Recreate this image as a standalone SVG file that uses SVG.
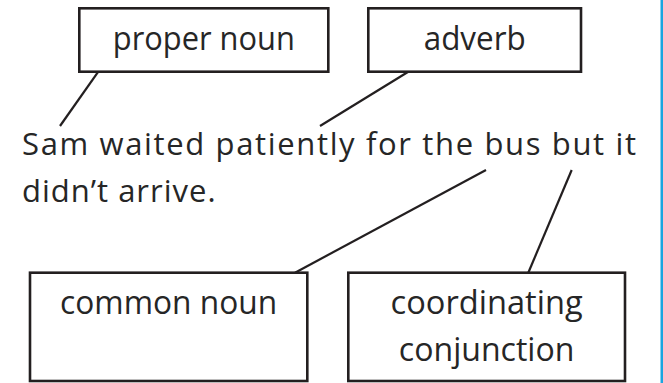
<svg xmlns="http://www.w3.org/2000/svg" width="663" height="383" viewBox="0 0 663 383">
  <style>
    .box { fill: #ffffff; stroke: #231f20; stroke-width: 2.6; }
    .lbl { font-family: "Open Sans", "Liberation Sans", sans-serif; font-size: 33px; font-weight: 400; fill: #262626; text-anchor: middle; }
    .sent { font-family: "Open Sans", "Liberation Sans", sans-serif; font-size: 31px; font-weight: 400; fill: #262626; }
    .link { stroke: #231f20; stroke-width: 2.2; fill: none; stroke-linecap: butt; }
  </style>
  <rect x="0" y="0" width="663" height="383" fill="#ffffff"/>
  <rect x="660.5" y="0" width="2.5" height="383" fill="#1ba5e0"/>

  <g id="connectors">
    <line class="link" x1="98.3" y1="71.7" x2="60" y2="126"/>
    <line class="link" x1="408.3" y1="71.7" x2="320" y2="126"/>
    <line class="link" x1="486" y1="170" x2="295" y2="272.7"/>
    <line class="link" x1="571.7" y1="170" x2="528.3" y2="272.7"/>
  </g>

  <g id="node-proper-noun">
    <rect class="box" x="79.3" y="8.3" width="249" height="63.4"/>
    <text class="lbl" x="203.8" y="50" textLength="182" lengthAdjust="spacingAndGlyphs">proper noun</text>
  </g>

  <g id="node-adverb">
    <rect class="box" x="368.3" y="8.3" width="212.7" height="63.4"/>
    <text class="lbl" x="474.7" y="50" textLength="102" lengthAdjust="spacingAndGlyphs">adverb</text>
  </g>

  <g id="sentence">
    <text class="sent" x="22" y="155" textLength="614" lengthAdjust="spacing">Sam waited patiently for the bus but it</text>
    <text class="sent" x="22" y="201.5" textLength="193.6" lengthAdjust="spacing">didn’t arrive.</text>
  </g>

  <g id="node-common-noun">
    <rect class="box" x="30" y="272.7" width="277.3" height="108.3"/>
    <text class="lbl" x="168.6" y="314" textLength="217" lengthAdjust="spacingAndGlyphs">common noun</text>
  </g>

  <g id="node-coordinating-conjunction">
    <rect class="box" x="348.3" y="272.7" width="276.7" height="108.3"/>
    <text class="lbl" x="486.6" y="314" textLength="192" lengthAdjust="spacingAndGlyphs">coordinating</text>
    <text class="lbl" x="486.6" y="361" textLength="175.5" lengthAdjust="spacingAndGlyphs">conjunction</text>
  </g>
</svg>
